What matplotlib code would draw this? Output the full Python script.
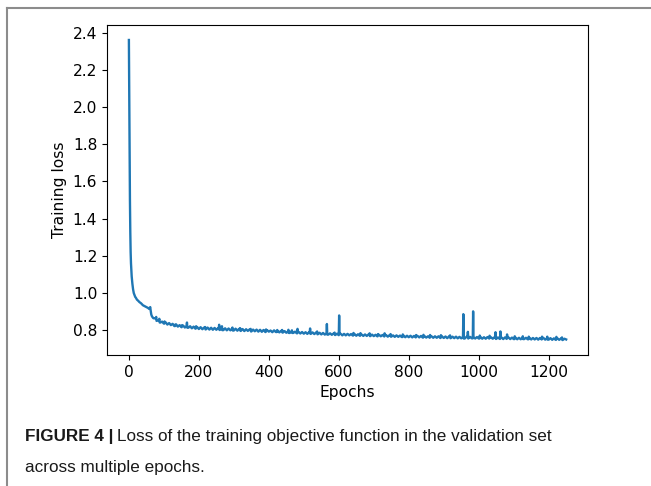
import numpy as np
import matplotlib.pyplot as plt
from matplotlib.lines import Line2D

plt.rcParams['font.size'] = 11.2

# early part of training (steep drop)
early_epochs = [0, 1, 2, 3, 4, 5, 6, 7, 8, 10, 12, 14, 16, 18, 20, 23, 26, 30, 35,
                40, 45, 50, 55, 58, 60, 61, 62, 64, 66, 68, 70]
early_loss = [2.36, 2.05, 1.75, 1.50, 1.33, 1.22, 1.16, 1.12, 1.09, 1.05, 1.02, 1.00,
              0.99, 0.98, 0.975, 0.965, 0.96, 0.952, 0.945, 0.935, 0.93, 0.925, 0.92,
              0.915, 0.922, 0.925, 0.91, 0.885, 0.875, 0.87, 0.865]

# rest of the curve, one value every 5 epochs from 75 to 1250
grid_loss = [
    0.864, 0.851, 0.855, 0.842, 0.847, 0.836, 0.843, 0.831, 0.839, 0.828,
    0.835, 0.823, 0.832, 0.820, 0.828, 0.817, 0.826, 0.815, 0.824, 0.814,
    0.822, 0.811, 0.820, 0.809, 0.818, 0.807, 0.817, 0.806, 0.815, 0.805,
    0.815, 0.804, 0.814, 0.803, 0.813, 0.803, 0.812, 0.802, 0.811, 0.801,
    0.811, 0.800, 0.810, 0.800, 0.809, 0.799, 0.809, 0.798, 0.808, 0.797,
    0.807, 0.796, 0.806, 0.797, 0.805, 0.794, 0.804, 0.795, 0.804, 0.793,
    0.803, 0.792, 0.802, 0.791, 0.801, 0.793, 0.799, 0.790, 0.800, 0.791,
    0.798, 0.789, 0.797, 0.788, 0.796, 0.787, 0.795, 0.786, 0.794, 0.786,
    0.793, 0.784, 0.792, 0.783, 0.791, 0.782, 0.790, 0.781, 0.790, 0.781,
    0.789, 0.780, 0.788, 0.779, 0.787, 0.778, 0.786, 0.777, 0.785, 0.777,
    0.784, 0.776, 0.783, 0.775, 0.782, 0.774, 0.782, 0.773, 0.781, 0.773,
    0.781, 0.773, 0.780, 0.772, 0.780, 0.771, 0.779, 0.771, 0.778, 0.770,
    0.778, 0.770, 0.778, 0.769, 0.777, 0.769, 0.776, 0.768, 0.776, 0.768,
    0.775, 0.767, 0.775, 0.766, 0.774, 0.766, 0.773, 0.765, 0.773, 0.765,
    0.772, 0.764, 0.772, 0.763, 0.771, 0.763, 0.771, 0.762, 0.770, 0.762,
    0.770, 0.762, 0.770, 0.761, 0.769, 0.761, 0.768, 0.760, 0.768, 0.760,
    0.768, 0.760, 0.768, 0.759, 0.767, 0.759, 0.767, 0.758, 0.767, 0.758,
    0.766, 0.758, 0.766, 0.757, 0.765, 0.757, 0.765, 0.756, 0.765, 0.756,
    0.765, 0.757, 0.764, 0.756, 0.764, 0.756, 0.764, 0.755, 0.763, 0.755,
    0.764, 0.756, 0.763, 0.755, 0.763, 0.754, 0.762, 0.754, 0.762, 0.753,
    0.762, 0.754, 0.762, 0.753, 0.761, 0.753, 0.761, 0.752, 0.760, 0.752,
    0.761, 0.753, 0.760, 0.752, 0.760, 0.751, 0.759, 0.751, 0.759, 0.750,
    0.759, 0.751, 0.759, 0.750, 0.758, 0.750, 0.758, 0.749, 0.757, 0.749,
    0.757, 0.749, 0.756, 0.748, 0.755, 0.751,
]
grid_epochs = np.arange(75, 1251, 5)

# single-epoch spikes
spike_epochs = [78, 87, 102, 133, 152, 166, 192, 218, 258, 266, 296, 318, 348, 392,
                424, 438, 456, 466, 482, 518, 538, 566, 588, 601, 642, 662, 688,
                712, 731, 748, 783, 821, 842, 861, 892, 918, 956, 969, 984, 1003,
                1031, 1048, 1062, 1081, 1103, 1126, 1143, 1181, 1196, 1222, 1238]
spike_peaks = [0.872, 0.862, 0.848, 0.832, 0.828, 0.842, 0.822, 0.818, 0.830, 0.822,
               0.815, 0.812, 0.808, 0.805, 0.802, 0.802, 0.803, 0.800, 0.808, 0.810,
               0.794, 0.834, 0.788, 0.880, 0.786, 0.785, 0.784, 0.780, 0.784, 0.780,
               0.778, 0.775, 0.776, 0.775, 0.774, 0.773, 0.887, 0.792, 0.902, 0.772,
               0.771, 0.790, 0.794, 0.778, 0.768, 0.768, 0.766, 0.766, 0.766, 0.765,
               0.762]

# merge grid and spikes into one series
pts = list(zip(early_epochs, early_loss)) + list(zip(grid_epochs, grid_loss))
for e, p in zip(spike_epochs, spike_peaks):
    i = np.searchsorted(grid_epochs, e)
    left = grid_loss[max(i - 1, 0)]
    right = grid_loss[min(i, len(grid_loss) - 1)]
    pts += [(e - 1, left), (e, p), (e + 1, right)]
pts.sort(key=lambda t: t[0])
epochs = np.array([t[0] for t in pts])
loss = np.array([t[1] for t in pts])

fig = plt.figure(figsize=(6.51, 4.86), dpi=100)
ax = fig.add_axes([0.1644, 0.2695, 0.7389, 0.6791])
ax.plot(epochs, loss, color='#1f77b4', lw=1.7)
ax.set_xlabel('Epochs')
ax.set_ylabel('Training loss')
ax.set_xticks([0, 200, 400, 600, 800, 1000, 1200])
ax.set_yticks([0.8, 1.0, 1.2, 1.4, 1.6, 1.8, 2.0, 2.2, 2.4])

# page frame
fig.add_artist(Line2D([7/651, 1], [1-8/486, 1-8/486], color='#8c8c8c', lw=1.5))
fig.add_artist(Line2D([7/651, 7/651], [0, 1-8/486], color='#8c8c8c', lw=1.5))

# caption
cap_font = ['Liberation Sans Narrow', 'Liberation Sans', 'DejaVu Sans']
t1 = fig.text(25/651, 1-437/486, 'FIGURE 4 |', fontsize=12.3, fontweight='bold',
              family=cap_font, va='center', color='#1a1a1a')
fig.canvas.draw()
bb = t1.get_window_extent()
fig.text((bb.x1 + 4)/651, 1-437/486, 'Loss of the training objective function in the validation set',
         fontsize=12.3, family=cap_font, va='center', color='#1a1a1a')
fig.text(25/651, 1-467/486, 'across multiple epochs.', fontsize=12.3, family=cap_font,
         va='center', color='#1a1a1a')

fig.savefig('out.png', dpi=100)
